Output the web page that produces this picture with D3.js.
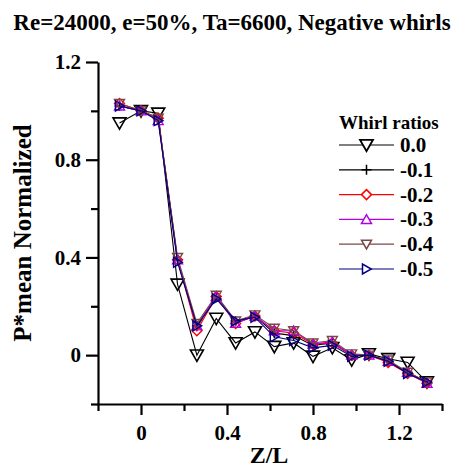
<!DOCTYPE html>
<html><head><meta charset="utf-8">
<script src="https://cdn.jsdelivr.net/npm/d3@7"></script>
<style>body{margin:0;background:#fff}svg text{font-family:"Liberation Serif","Times New Roman",serif;font-weight:bold}</style>
</head><body><svg id="c" width="465" height="468"></svg>
<script>
const zL = [-0.1, 0, 0.08, 0.17, 0.26, 0.35, 0.44, 0.53, 0.62, 0.71, 0.80, 0.89, 0.98, 1.06, 1.15, 1.24, 1.33];
const w00 = [0.95, 1.0, 0.99, 0.29, 0.0, 0.15, 0.05, 0.095, 0.035, 0.05, -0.005, 0.03, -0.02, 0.005, -0.015, -0.03, -0.11];
const w01 = [1.02, 1.0, 0.97, 0.39, 0.12, 0.24, 0.14, 0.16, 0.09, 0.08, 0.04, 0.05, 0.0, 0.0, -0.025, -0.07, -0.11];
const w02 = [1.03, 1.0, 0.97, 0.39, 0.10, 0.24, 0.13, 0.16, 0.10, 0.09, 0.045, 0.05, 0.0, 0.0, -0.03, -0.075, -0.115];
const w03 = [1.02, 1.0, 0.96, 0.39, 0.12, 0.24, 0.13, 0.16, 0.10, 0.10, 0.045, 0.055, 0.0, 0.0, -0.025, -0.07, -0.115];
const w04 = [1.03, 1.0, 0.97, 0.40, 0.13, 0.245, 0.14, 0.165, 0.11, 0.10, 0.05, 0.06, 0.005, 0.0, -0.02, -0.07, -0.11];
const w05 = [1.02, 1.0, 0.96, 0.38, 0.12, 0.23, 0.14, 0.155, 0.075, 0.06, 0.03, 0.04, -0.005, 0.0, -0.025, -0.075, -0.11];
const seriesNames = ["0.0", "-0.1", "-0.2", "-0.3", "-0.4", "-0.5"];
const seriesValues = [w00, w01, w02, w03, w04, w05];
const colors = ["#000000", "#000000", "#ff0000", "#b000e8", "#7a4646", "#000080"];
const markers = ["down", "plus", "diamond", "up", "down", "right"];
const xMajor = [0, 0.4, 0.8, 1.2];
const xMinor = [-0.2, 0.2, 0.6, 1.0, 1.4];
const yMajor = [0, 0.4, 0.8, 1.2];
const yMinor = [-0.2, 0.2, 0.6, 1.0];

const svg = d3.select("#c");
const x = d3.scaleLinear().domain([-0.2, 1.4]).range([98, 442]);
const y = d3.scaleLinear().domain([-0.2, 1.2]).range([404, 62]);
const fmt = d => d === 0 ? "0" : d3.format(".1f")(d);

function markerPath(type, s) {
  const h = s / 2;
  if (type === "down") return `M${-h},${-h*0.8}L${h},${-h*0.8}L0,${h*0.95}Z`;
  if (type === "up") return `M${-h},${h*0.8}L${h},${h*0.8}L0,${-h*0.95}Z`;
  if (type === "right") return `M${-h*0.8},${-h}L${-h*0.8},${h}L${h*0.95},0Z`;
  if (type === "diamond") return `M0,${-h}L${h},0L0,${h}L${-h},0Z`;
  if (type === "plus") return `M${-h},0L${h},0M0,${-h}L0,${h}`;
}

// Axes
const gx = svg.append("g").attr("transform", "translate(0,404)");
gx.call(d3.axisBottom(x).tickValues(xMajor).tickSize(11).tickFormat(fmt).tickSizeOuter(0));
gx.append("g").call(d3.axisBottom(x).tickValues(xMinor).tickSize(7).tickFormat(""));
const gy = svg.append("g").attr("transform", "translate(98,0)");
gy.call(d3.axisLeft(y).tickValues(yMajor).tickSize(12).tickFormat(fmt).tickSizeOuter(0));
gy.append("g").call(d3.axisLeft(y).tickValues(yMinor).tickSize(7).tickFormat(""));
svg.selectAll(".domain").attr("stroke", "#000").attr("stroke-width", 2.2);
svg.selectAll(".tick line").attr("stroke", "#000").attr("stroke-width", 2.2);
svg.selectAll(".domain").filter(function(){return this.parentNode.parentNode.tagName==="g";}).remove();
gx.selectAll(".tick text").attr("font-size", 21).attr("fill", "#000").attr("dy", "1.05em");
gy.selectAll(".tick text").attr("font-size", 21).attr("fill", "#000").attr("dx", "-0.1em");

// Series
const line = d3.line().x((d,i) => x(zL[i])).y(d => y(d));
seriesValues.forEach((vals, k) => {
  const g = svg.append("g");
  g.append("path").datum(vals).attr("d", line).attr("fill", "none")
    .attr("stroke", colors[k]).attr("stroke-width", 1.1);
  const sz = k === 0 ? 13 : 10;
  g.selectAll("path.m").data(vals).join("path").attr("class", "m")
    .attr("transform", (d,i) => `translate(${x(zL[i])},${y(d)})`)
    .attr("d", markerPath(markers[k], sz)).attr("fill", "none")
    .attr("stroke", colors[k]).attr("stroke-width", k === 0 ? 1.6 : 1.4);
});

// Legend
const lg = svg.append("g");
lg.append("text").attr("x", 339).attr("y", 129).attr("font-size", 19).text("Whirl ratios");
seriesNames.forEach((n, k) => {
  const yy = 145 + k * 24.8;
  lg.append("line").attr("x1", 339).attr("x2", 394).attr("y1", yy).attr("y2", yy)
    .attr("stroke", colors[k]).attr("stroke-width", 1.2);
  lg.append("path").attr("transform", `translate(366.5,${yy})`)
    .attr("d", markerPath(markers[k], k === 0 ? 13 : 10)).attr("fill", "#fff")
    .attr("stroke", colors[k]).attr("stroke-width", k === 0 ? 1.8 : 1.5);
  lg.append("text").attr("x", 400).attr("y", yy + 7).attr("font-size", 21).text(n);
});

// Titles
svg.append("text").attr("x", 232).attr("y", 30).attr("text-anchor", "middle")
  .attr("font-size", 23).text("Re=24000, e=50%, Ta=6600, Negative whirls");
svg.append("text").attr("transform", "translate(31,233) rotate(-90)").attr("text-anchor", "middle")
  .attr("font-size", 25).text("P*mean Normalized");
svg.append("text").attr("x", 269).attr("y", 463).attr("text-anchor", "middle")
  .attr("font-size", 24).text("Z/L");
</script></body></html>
